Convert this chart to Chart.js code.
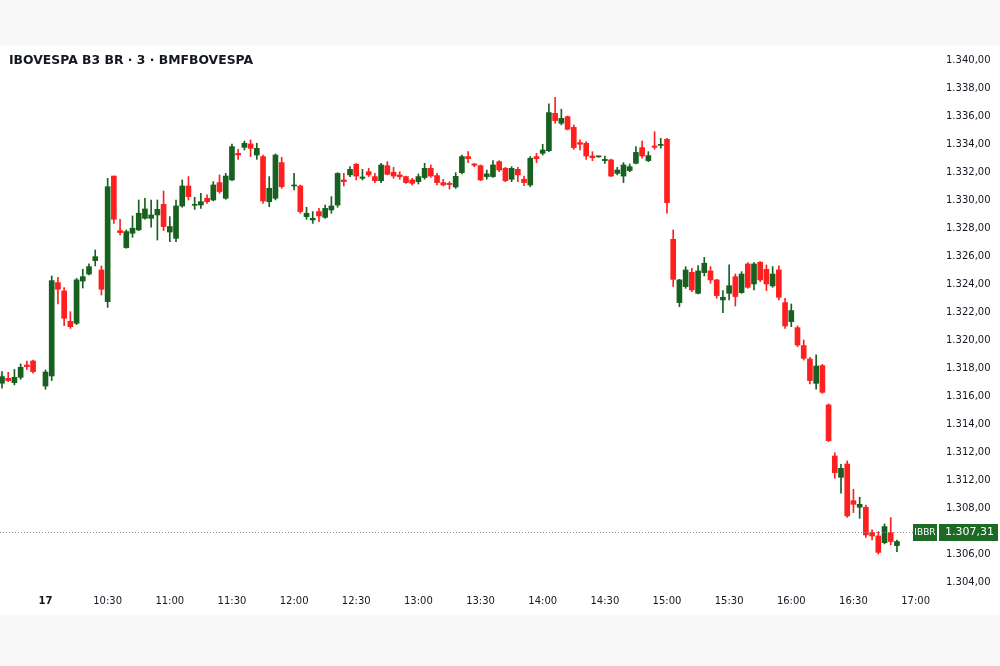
<!DOCTYPE html>
<html>
<head>
<meta charset="utf-8">
<script src="https://cdn.jsdelivr.net/npm/chart.js@4.4.1/dist/chart.umd.min.js"></script>
<style>
html,body{margin:0;padding:0;background:#fff;}
canvas{display:block;}
</style>
</head>
<body>
<canvas id="c" width="1000" height="666"></canvas>
<script>
// ---- data (3-minute candles, slot = bar index counted from 10:00) ----
const chartTitle = 'IBOVESPA B3 BR · 3 · BMFBOVESPA';
const slots = [-7,-6,-5,-4,-3,-2,0,1,2,3,4,5,6,7,8,9,10,11,12,13,14,15,16,17,18,19,20,21,22,23,24,25,26,27,28,29,30,31,32,33,34,35,36,37,38,
  40,41,42,43,44,45,46,47,48,49,50,51,52,53,54,55,56,57,58,59,60,61,62,63,64,65,66,67,68,69,70,71,72,73,74,75,76,77,78,79,80,81,82,83,84,85,86,87,88,89,
  90,91,92,93,94,95,96,97,98,99,100,101,102,103,104,105,106,107,108,109,110,111,112,113,114,115,116,117,118,119,120,121,122,123,124,125,126,127,128,129,130,131,132,133,134,135,136,137];
const opens = [1316.91,1317.26,1316.95,1317.33,1318.21,1318.50,1316.71,1317.43,1324.10,1323.50,1321.33,1321.19,1324.21,1324.71,1325.67,1325.00,1322.74,1331.71,1327.81,1326.60,1327.62,1327.86,1328.69,1328.69,1328.93,1329.69,1327.71,1327.26,1329.57,1331.00,1329.62,1329.64,1330.12,1330.00,1331.24,1330.12,1331.43,1333.33,1333.76,1334.00,1333.21,1333.10,1329.88,1330.12,1332.67,
  1331.00,1331.00,1328.81,1328.57,1329.17,1328.76,1329.29,1329.64,1331.43,1331.79,1332.55,1331.55,1332.02,1331.67,1331.38,1332.45,1331.98,1331.79,1331.67,1331.43,1331.31,1331.60,1332.26,1331.74,1331.24,1331.19,1330.93,1331.95,1333.10,1332.57,1332.45,1331.67,1331.67,1332.74,1332.26,1331.48,1332.19,1331.48,1331.07,1333.10,1333.33,1333.52,1336.19,1335.48,1335.95,1335.19,1334.10,1334.05,1333.14,1333.08,
  1332.81,1332.86,1331.90,1331.71,1332.10,1332.62,1333.74,1332.81,1333.86,1333.90,1334.33,1327.19,1322.67,1323.81,1324.83,1323.33,1324.81,1324.93,1324.29,1322.86,1323.33,1324.52,1323.38,1325.43,1324.00,1325.55,1325.05,1323.86,1325.00,1322.67,1321.31,1320.88,1319.60,1318.64,1316.90,1318.17,1315.36,1311.71,1310.19,1311.14,1308.52,1308.05,1308.05,1306.24,1306.00,1305.52,1306.24,1305.31];
const highs = [1317.74,1317.69,1317.90,1318.29,1318.50,1318.57,1317.86,1324.57,1324.48,1323.74,1322.02,1324.40,1325.05,1325.43,1326.43,1325.29,1331.55,1331.71,1328.62,1327.86,1328.86,1330.00,1330.12,1330.00,1330.00,1330.64,1328.81,1330.00,1331.43,1331.67,1330.19,1330.48,1330.36,1331.31,1331.79,1331.90,1334.00,1333.62,1334.21,1334.29,1334.05,1333.21,1331.67,1333.29,1333.05,
  1331.90,1331.07,1329.48,1329.17,1329.40,1329.64,1330.24,1331.95,1331.90,1332.38,1332.62,1332.19,1332.26,1331.90,1332.62,1332.74,1332.33,1332.02,1331.71,1331.55,1331.86,1332.62,1332.50,1331.90,1331.48,1331.31,1331.95,1333.21,1333.45,1332.62,1332.50,1332.14,1332.81,1332.81,1332.33,1332.38,1332.33,1331.71,1333.10,1333.33,1333.98,1336.86,1337.33,1336.48,1336.00,1335.36,1334.29,1334.17,1333.45,1333.14,
  1333.14,1332.93,1332.33,1332.67,1332.57,1333.81,1334.21,1333.45,1334.88,1334.40,1334.40,1327.86,1324.33,1325.24,1325.12,1325.31,1325.90,1325.24,1324.33,1323.52,1325.36,1324.71,1324.88,1325.52,1325.52,1325.60,1325.36,1325.24,1325.29,1322.98,1322.57,1321.00,1320.00,1318.76,1318.93,1318.26,1315.43,1311.95,1311.12,1311.36,1309.33,1308.76,1308.21,1306.43,1306.31,1306.86,1307.31,1305.71];
const lows = [1316.55,1317.02,1316.79,1317.19,1317.90,1317.62,1316.48,1317.10,1322.57,1321.02,1320.83,1321.10,1323.71,1324.64,1325.29,1323.21,1322.33,1328.33,1327.50,1326.55,1327.33,1327.81,1328.62,1328.05,1327.14,1327.81,1327.02,1327.02,1329.48,1330.00,1329.33,1329.40,1329.76,1329.93,1330.48,1330.05,1331.38,1332.90,1333.57,1333.10,1332.90,1329.76,1329.52,1330.00,1330.83,
  1330.71,1329.05,1328.62,1328.33,1328.45,1328.69,1329.05,1329.48,1331.00,1331.67,1331.43,1331.43,1331.67,1331.24,1331.24,1331.79,1331.55,1331.48,1331.19,1331.07,1331.14,1331.48,1331.62,1331.07,1331.00,1330.78,1330.83,1331.86,1332.67,1332.38,1331.38,1331.48,1331.62,1332.02,1331.31,1331.31,1331.31,1331.02,1330.95,1332.67,1333.21,1333.45,1335.48,1335.36,1335.00,1333.62,1333.57,1332.90,1332.81,1333.05,
  1332.62,1331.67,1331.79,1331.24,1332.02,1332.57,1332.98,1332.74,1333.62,1333.70,1329.05,1323.81,1322.38,1323.69,1323.45,1323.29,1324.57,1324.05,1322.98,1321.95,1322.86,1322.43,1323.33,1323.69,1323.57,1324.17,1323.52,1323.76,1322.86,1320.83,1320.95,1319.52,1318.57,1316.86,1316.48,1316.19,1312.74,1310.12,1309.05,1307.33,1307.67,1307.26,1305.90,1305.71,1304.71,1305.43,1305.36,1304.88];
const closes = [1317.38,1317.10,1317.33,1318.05,1318.10,1317.74,1317.71,1324.24,1323.62,1321.55,1320.95,1324.29,1324.52,1325.24,1325.95,1323.62,1330.95,1328.62,1327.67,1327.74,1327.98,1329.05,1329.36,1328.93,1329.33,1328.10,1328.10,1329.57,1331.00,1330.24,1329.69,1329.88,1329.88,1331.07,1330.60,1331.71,1333.81,1333.21,1334.05,1333.69,1333.69,1329.93,1330.83,1333.21,1330.95,
  1331.07,1329.17,1329.05,1328.69,1328.86,1329.40,1329.57,1331.90,1331.31,1332.19,1331.71,1331.64,1331.79,1331.38,1332.50,1331.83,1331.71,1331.67,1331.24,1331.19,1331.67,1332.26,1331.71,1331.24,1331.07,1331.10,1331.69,1333.10,1332.95,1332.48,1331.43,1331.86,1332.50,1332.14,1331.38,1332.26,1331.79,1331.24,1332.98,1332.95,1333.57,1336.24,1335.67,1335.83,1335.05,1333.74,1333.98,1333.14,1333.02,1333.10,
  1332.90,1331.71,1332.14,1332.50,1332.38,1333.40,1333.14,1333.17,1333.76,1333.95,1329.81,1324.33,1324.29,1325.00,1323.57,1324.93,1325.48,1324.29,1323.17,1323.05,1323.88,1323.10,1324.71,1323.76,1325.43,1324.29,1324.00,1324.71,1323.05,1321.00,1322.10,1319.64,1318.69,1317.10,1318.14,1316.26,1312.81,1310.52,1310.83,1307.43,1308.26,1308.26,1306.07,1306.00,1304.83,1306.67,1305.60,1305.60];

const xTickSlots  = [0,10,20,30,40,50,60,70,80,90,100,110,120,130,140];
const xTickLabels = ['17','10:30','11:00','11:30','12:00','12:30','13:00','13:30','14:00','14:30','15:00','15:30','16:00','16:30','17:00'];
const yTickValues = [1340,1338,1336,1334,1332,1330,1328,1326,1324,1322,1320,1318,1316,1314,1312,1310,1308,1304.65,1302.65];
const yTickLabels = ['1.340,00','1.338,00','1.336,00','1.334,00','1.332,00','1.330,00','1.328,00','1.326,00','1.324,00','1.322,00','1.320,00','1.318,00','1.316,00','1.314,00','1.312,00','1.312,00','1.308,00','1.306,00','1.304,00'];
const symbolTag = 'IBBR';
const lastPriceText = '1.307,31';
const lastPriceLevel = 1306.3;

// ---- styling ----
const UP = '#17601f', DOWN = '#ff1f1f', TEXT = '#131722', TAG = '#1d6a24';
const colors = opens.map((o, i) => closes[i] >= o ? UP : DOWN);

const decor = {
  id: 'decor',
  beforeDraw(chart) {
    const c = chart.ctx;
    c.save();
    c.fillStyle = '#ffffff'; c.fillRect(0, 0, chart.width, chart.height);
    c.fillStyle = '#f8f8f8';
    c.fillRect(0, 0, chart.width, 45);
    c.fillRect(0, 615, chart.width, chart.height - 615);
    c.restore();
  },
  afterDatasetsDraw(chart) {
    const c = chart.ctx, ys = chart.scales.y;
    const y = Math.round(ys.getPixelForValue(lastPriceLevel)) + 0.5;
    c.save();
    c.strokeStyle = '#8a8a8a'; c.lineWidth = 1; c.setLineDash([1, 2]);
    c.beginPath(); c.moveTo(0, y); c.lineTo(913, y); c.stroke();
    c.setLineDash([]);
    c.fillStyle = TAG;
    c.fillRect(913, y - 8.5, 24, 17);
    c.fillRect(939, y - 8.5, 59, 17);
    c.fillStyle = '#ffffff'; c.textBaseline = 'middle'; c.textAlign = 'center';
    c.font = '9px "DejaVu Sans"';
    c.fillText(symbolTag, 925, y);
    c.font = '11px "DejaVu Sans"'; c.textAlign = 'left';
    c.fillText(lastPriceText, 945, y);
    c.fillStyle = TEXT; c.font = 'bold 12.4px "DejaVu Sans"'; c.textBaseline = 'middle';
    c.fillText(chartTitle, 9, 61);
    c.restore();
  }
};

new Chart(document.getElementById('c'), {
  type: 'bar',
  data: {
    datasets: [
      { label: 'wick', data: slots.map((s, i) => ({ x: s, y: [lows[i], highs[i]] })),
        backgroundColor: colors, borderWidth: 0, barThickness: 1, grouped: false, order: 2 },
      { label: 'body', data: slots.map((s, i) => ({ x: s, y: [opens[i], closes[i]] })),
        backgroundColor: colors, borderWidth: 0, barThickness: 5, minBarLength: 1, grouped: false, order: 1 }
    ]
  },
  options: {
    responsive: false, animation: false,
    layout: { padding: { top: 45, bottom: 51, left: 0, right: 0 } },
    plugins: { legend: { display: false }, tooltip: { enabled: false }, title: { display: false } },
    scales: {
      x: {
        type: 'linear', offset: false, min: -7.321, max: 140.71,
        grid: { display: false, drawTicks: false }, border: { display: false },
        afterBuildTicks: s => { s.ticks = xTickSlots.map(v => ({ value: v })); },
        afterFit: s => { s.height = 25; },
        ticks: {
          autoSkip: false, maxRotation: 0, padding: 5, color: TEXT,
          font: ctx => ({ family: 'DejaVu Sans', size: 10, weight: ctx.index === 0 ? 'bold' : 'normal' }),
          callback: (v, i) => xTickLabels[i]
        }
      },
      y: {
        position: 'right', min: 1302.14, max: 1341.07,
        grid: { display: false, drawTicks: false }, border: { display: false },
        afterBuildTicks: s => { s.ticks = yTickValues.map(v => ({ value: v })); },
        afterFit: s => { s.width = 80; },
        ticks: {
          autoSkip: false, padding: 26, color: TEXT,
          font: { family: 'DejaVu Sans', size: 10 },
          callback: (v, i) => yTickLabels[i]
        }
      }
    }
  },
  plugins: [decor]
});
</script>
</body>
</html>
